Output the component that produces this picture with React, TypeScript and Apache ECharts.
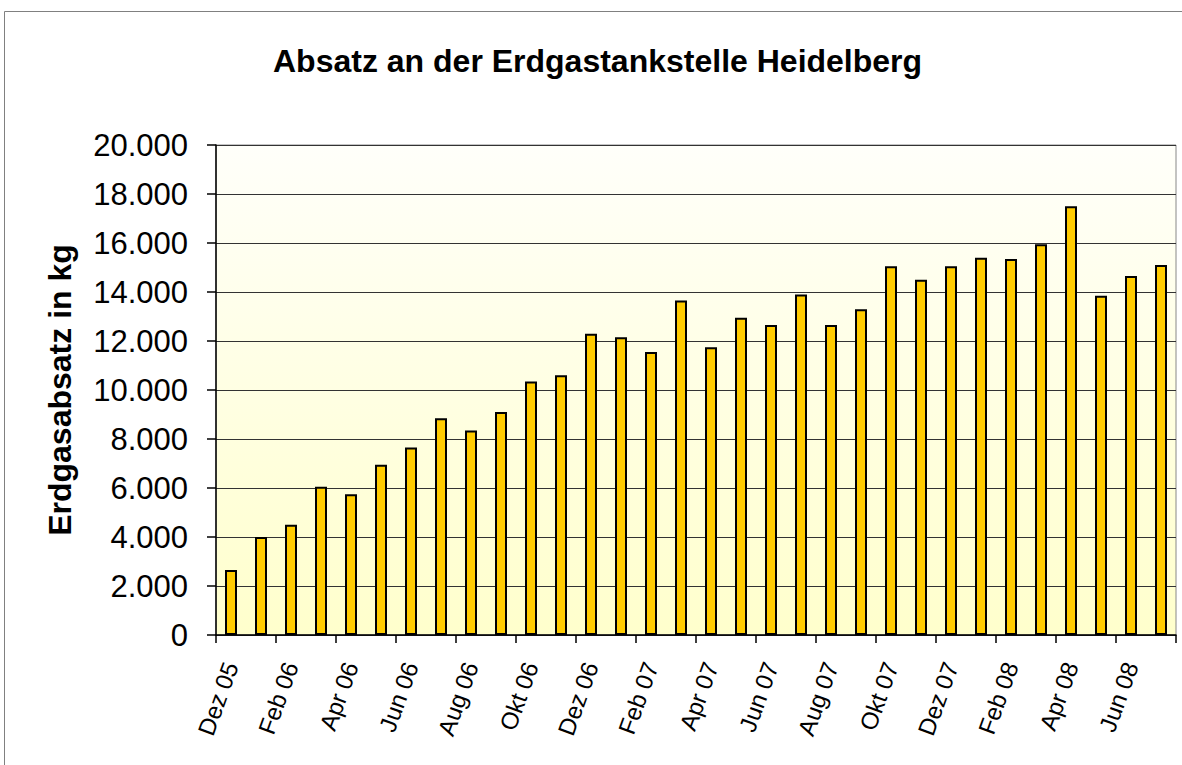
import React, { useEffect, useRef } from "react";
import * as echarts from "echarts";

const titleText = "Absatz an der Erdgastankstelle Heidelberg";
const yAxisName = "Erdgasabsatz in kg";

const months = [
  "Dez 05", "Jan 06", "Feb 06", "Mrz 06", "Apr 06", "Mai 06", "Jun 06", "Jul 06",
  "Aug 06", "Sep 06", "Okt 06", "Nov 06", "Dez 06", "Jan 07", "Feb 07", "Mrz 07",
  "Apr 07", "Mai 07", "Jun 07", "Jul 07", "Aug 07", "Sep 07", "Okt 07", "Nov 07",
  "Dez 07", "Jan 08", "Feb 08", "Mrz 08", "Apr 08", "Mai 08", "Jun 08", "Jul 08",
];

const sales = [
  2650, 4000, 4500, 6050, 5750, 6950, 7650, 8850,
  8350, 9100, 10350, 10600, 12300, 12150, 11550, 13650,
  11750, 12950, 12650, 13900, 12650, 13300, 15050, 14500,
  15050, 15400, 15350, 15950, 17500, 13850, 14650, 15100,
];

const yMin = 0;
const yMax = 20000;
const yStep = 2000;

const FONT = "'Liberation Sans', Arial, sans-serif";

function fmt(v: number): string {
  return String(v).replace(/\B(?=(\d{3})+(?!\d))/g, ".");
}

export default function App() {
  const ref = useRef<HTMLDivElement>(null);
  useEffect(() => {
    if (!ref.current) return;
    const chart = echarts.init(ref.current, undefined, { renderer: "svg" });
    chart.setOption({
      animation: false,
      backgroundColor: "#ffffff",
      textStyle: { fontFamily: FONT },
      title: {
        text: titleText,
        left: 268,
        top: 40,
        textStyle: { fontFamily: FONT, fontSize: 32, fontWeight: "bold", color: "#000" },
      },
      graphic: [
        {
          type: "rect",
          shape: { x: 4.5, y: 11.5, width: 1200, height: 800 },
          style: { fill: "none", stroke: "#808080", lineWidth: 1 },
          silent: true,
          z: -1,
        },
      ],
      grid: {
        left: 216,
        right: 6,
        top: 145,
        bottom: 130,
        show: true,
        borderColor: "#888888",
        borderWidth: 1,
        backgroundColor: {
          type: "linear",
          x: 0, y: 0, x2: 0, y2: 1,
          colorStops: [
            { offset: 0, color: "#fffffa" },
            { offset: 1, color: "#ffffcc" },
          ],
        },
      },
      xAxis: {
        type: "category",
        data: months,
        boundaryGap: true,
        axisLine: { show: true, lineStyle: { color: "#000", width: 1.5 } },
        axisTick: { show: true, interval: 1, length: 8, lineStyle: { color: "#000", width: 1.5 } },
        axisLabel: {
          interval: 1,
          rotate: 70,
          margin: 28,
          fontSize: 24,
          color: "#000",
          fontFamily: FONT,
        },
      },
      yAxis: {
        type: "value",
        min: yMin,
        max: yMax,
        interval: yStep,
        name: yAxisName,
        nameLocation: "middle",
        nameRotate: 90,
        nameGap: 140,
        nameTextStyle: { fontFamily: FONT, fontSize: 32, fontWeight: "bold", color: "#000" },
        axisLine: { show: true, lineStyle: { color: "#000", width: 1.5 } },
        axisTick: { show: true, length: 9, inside: false, lineStyle: { color: "#000", width: 1.5 } },
        splitLine: { show: true, lineStyle: { color: "#333", width: 1.2 } },
        axisLabel: {
          margin: 28,
          fontSize: 31,
          color: "#000",
          fontFamily: FONT,
          formatter: (v: number) => fmt(v),
        },
      },
      series: [
        {
          type: "bar",
          data: sales,
          barWidth: 12,
          itemStyle: { color: "#ffcc00", borderColor: "#000", borderWidth: 2 },
        },
      ],
    });
    return () => chart.dispose();
  }, []);
  return (
    <div
      ref={ref}
      style={{ position: "fixed", left: 0, top: 0, width: 1182, height: 765 }}
    />
  );
}
